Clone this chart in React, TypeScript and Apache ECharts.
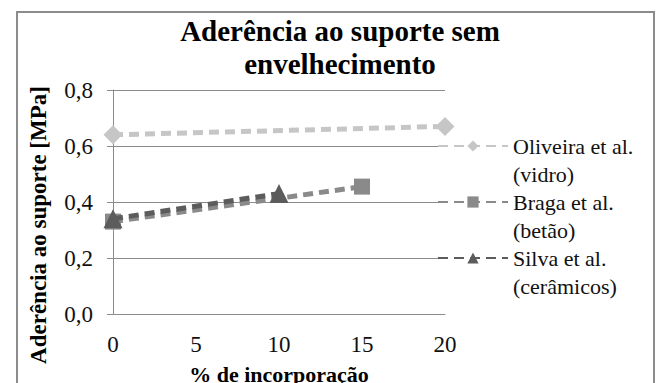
import React, { useEffect, useRef } from "react";
import * as echarts from "echarts";

const seriesNames = ["Oliveira et al.\n(vidro)", "Braga et al.\n(betão)", "Silva et al.\n(cerâmicos)"];
const oliveiraX = [0, 20];
const oliveiraY = [0.64, 0.67];
const bragaX = [0, 15];
const bragaY = [0.33, 0.455];
const silvaX = [0, 10];
const silvaY = [0.34, 0.43];
const colors = ["#c6c6c6", "#8a8a8a", "#5c5c5c"];
const symbols = ["diamond", "rect", "triangle"];
const symbolSizes = [19, 16, 19];

const FONT = "Liberation Serif";

export default function App() {
  const ref = useRef<HTMLDivElement>(null);
  useEffect(() => {
    document.body.style.margin = "0";
    const chart = echarts.init(ref.current!, undefined, { renderer: "svg" });
    const pairs = [
      oliveiraX.map((x, i) => [x, oliveiraY[i]]),
      bragaX.map((x, i) => [x, bragaY[i]]),
      silvaX.map((x, i) => [x, silvaY[i]]),
    ];
    chart.setOption({
      animation: false,
      backgroundColor: "#ffffff",
      textStyle: { fontFamily: FONT },
      title: {
        text: "Aderência ao suporte sem\nenvelhecimento",
        left: 340,
        textAlign: "center",
        top: 14,
        padding: 0,
        textStyle: { fontFamily: FONT, fontWeight: "bold", fontSize: 29, lineHeight: 33, color: "#000" },
      },
      graphic: [
        {
          type: "rect",
          shape: { x: 17, y: 12, width: 637, height: 390 },
          style: { fill: "none", stroke: "#8c8c8c", lineWidth: 2 },
          silent: true,
        },
      ],
      legend: {
        orient: "vertical",
        left: 437,
        top: 104,
        padding: 0,
        itemWidth: 70,
        itemHeight: 14,
        itemGap: -28,
        data: seriesNames,
        formatter: (n: string) => " \n" + n,
        textStyle: { fontFamily: FONT, fontSize: 22, lineHeight: 28, color: "#111" },
      },
      grid: { left: 113, right: 215, top: 90, bottom: 69, containLabel: false, outerBoundsMode: "none" },
      xAxis: {
        type: "value",
        min: 0,
        max: 20,
        interval: 5,
        name: "% de incorporação",
        nameLocation: "middle",
        nameGap: 49,
        nameTextStyle: { fontFamily: FONT, fontWeight: "bold", fontSize: 22, color: "#000" },
        axisLine: { show: true, lineStyle: { color: "#8c8c8c", width: 1 } },
        axisTick: { show: false },
        splitLine: { show: false },
        axisLabel: { fontFamily: FONT, fontSize: 23, color: "#111", margin: 19 },
      },
      yAxis: {
        type: "value",
        min: 0,
        max: 0.8,
        interval: 0.2,
        name: "Aderência ao suporte [MPa]",
        nameLocation: "middle",
        nameGap: 63,
        nameTextStyle: { fontFamily: FONT, fontWeight: "bold", fontSize: 23, color: "#000", padding: [0, 46, 0, 0] },
        axisLine: { show: true, lineStyle: { color: "#8c8c8c", width: 1 } },
        axisTick: { show: true, length: 6, lineStyle: { color: "#8c8c8c" } },
        splitLine: { show: true, lineStyle: { color: "#8c8c8c", width: 1 } },
        axisLabel: {
          fontFamily: FONT,
          fontSize: 23,
          color: "#111",
          margin: 20,
          formatter: (v: number) => v.toFixed(1).replace(".", ","),
        },
      },
      series: seriesNames.map((name, i) => ({
        name,
        type: "line",
        data: pairs[i],
        symbol: symbols[i],
        symbolSize: symbolSizes[i],
        color: colors[i],
        itemStyle: { color: colors[i] },
        lineStyle: { color: colors[i], width: 5, type: [10, 6] },
        z: 2 + i,
      })),
    });
    return () => chart.dispose();
  }, []);
  return <div ref={ref} style={{ width: 660, height: 383 }} />;
}
